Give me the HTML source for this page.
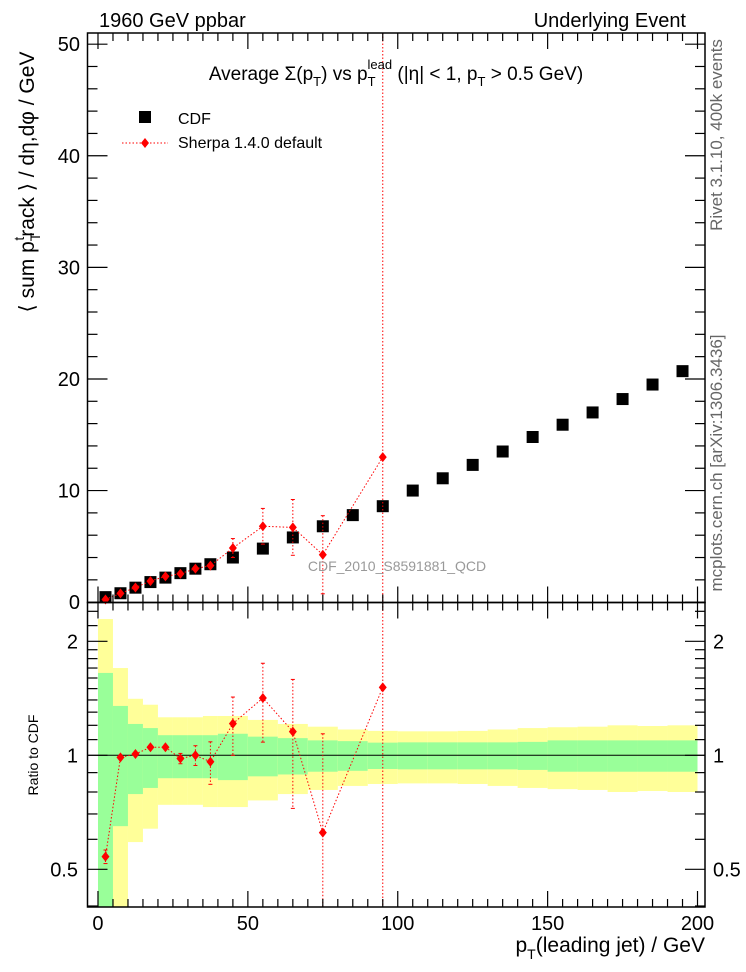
<!DOCTYPE html>
<html><head><meta charset="utf-8">
<style>
html,body{margin:0;padding:0;background:#fff;}
svg{display:block;font-family:"Liberation Sans",sans-serif;}
</style></head>
<body>
<svg id="chart" width="746" height="972" viewBox="0 0 746 972" xmlns="http://www.w3.org/2000/svg">
<g id="bands"></g>
<g id="marks"></g>
<g id="axes"></g>
<text x="99" y="27" font-size="20">1960 GeV ppbar</text>
<text x="686" y="27" font-size="20" text-anchor="end">Underlying Event</text>
<text x="396" y="80" font-size="19" text-anchor="middle">Average Σ(p<tspan font-size="13" dy="6">T</tspan><tspan dy="-6">) vs p</tspan><tspan font-size="13" dy="6">T</tspan><tspan font-size="13" dx="-8" dy="-17">lead</tspan><tspan dy="11"> (|η| &lt; 1, p</tspan><tspan font-size="13" dy="6">T</tspan><tspan dy="-6"> &gt; 0.5 GeV)</tspan></text>
<g>
<rect x="139" y="111" width="12" height="12" fill="#000"/>
<text x="178" y="124" font-size="16">CDF</text>
<line x1="122" y1="143" x2="168" y2="143" stroke="red" stroke-dasharray="1.5,2"/>
<path d="M145,138 L149,143 L145,148 L141,143Z" fill="red"/>
<text x="178" y="148" font-size="16">Sherpa 1.4.0 default</text>
</g>
<text x="397" y="571" font-size="14" fill="#999" text-anchor="middle">CDF_2010_S8591881_QCD</text>
<text transform="translate(34,182) rotate(-90)" font-size="21" text-anchor="middle">⟨ sum p<tspan font-size="14" dy="6">T</tspan><tspan font-size="14" dx="-8" dy="-16">t</tspan><tspan dy="10">rack ⟩ / dη,dφ / GeV</tspan></text>
<text transform="translate(722,135) rotate(-90)" font-size="17" fill="#666" text-anchor="middle">Rivet 3.1.10, 400k events</text>
<text transform="translate(722,463) rotate(-90)" font-size="17" fill="#666" text-anchor="middle">mcplots.cern.ch [arXiv:1306.3436]</text>
<text transform="translate(38,755) rotate(-90)" font-size="14" text-anchor="middle">Ratio to CDF</text>
<text x="705" y="952" font-size="21" text-anchor="end">p<tspan font-size="14" dy="7">T</tspan><tspan dy="-7">(leading jet) / GeV</tspan></text>
</svg>
<script>
const binEdges=[0,5,10,15,20,25,30,35,40,50,60,70,80,90,100,110,120,130,140,150,160,170,180,190,200];
const cdfValues=[0.45,0.8,1.3,1.8,2.2,2.6,3.0,3.4,4.0,4.8,5.8,6.8,7.8,8.6,10.0,11.1,12.3,13.5,14.8,15.9,17.0,18.2,19.5,20.7];
const statErr=[0.65,0.35,0.21,0.18,0.13,0.13,0.13,0.13,0.14,0.12,0.11,0.095,0.09,0.08,0.082,0.082,0.082,0.082,0.085,0.095,0.095,0.095,0.095,0.095];
const totErr=[1.29,0.70,0.41,0.36,0.26,0.26,0.26,0.27,0.27,0.24,0.21,0.19,0.17,0.16,0.157,0.157,0.16,0.17,0.18,0.186,0.19,0.2,0.195,0.2];
const sherpaX=[2.5,7.5,12.5,17.5,22.5,27.5,32.5,37.5,45,55,65,75,95];
const sherpaValues=[0.243,0.79,1.31,1.89,2.31,2.55,3.0,3.27,4.85,6.8,6.7,4.25,13.0];
const sherpaErr=[0.01,0.02,0.03,0.04,0.05,0.08,0.18,0.42,0.85,1.6,2.5,3.5,60];
const mainYTicks=[0,10,20,30,40,50];
const xTicks=[0,50,100,150,200];
const ratioTicks=[0.5,1,2];

const NS="http://www.w3.org/2000/svg";
const L=87.5,R=705,T1=33,B1=602.5,T2=602.5,B2=907;
const X=v=>L+(v+3.5)/(206)*(R-L);
const Y1=v=>B1-(v+0.03)*11.16;
const Y2=v=>755.3-Math.log2(v)*114;
function mk(tag,attrs,parent){const e=document.createElementNS(NS,tag);for(const k in attrs)e.setAttribute(k,attrs[k]);parent.appendChild(e);return e;}
const bands=document.getElementById('bands'),marks=document.getElementById('marks'),axes=document.getElementById('axes');
const clipY=y=>Math.max(T2,Math.min(B2,y));
for(let i=0;i<cdfValues.length;i++){
  const x0=X(binEdges[i]),x1=X(binEdges[i+1]);
  const yt=clipY(Y2(1+totErr[i])),yb=clipY(1-totErr[i]>0?Y2(1-totErr[i]):B2);
  const r=mk('rect',{x:x0,y:yt,width:x1-x0,height:yb-yt,fill:'#ffff99'},bands);
  
  
  const gt=clipY(Y2(1+statErr[i])),gb=clipY(1-statErr[i]>0?Y2(1-statErr[i]):B2);
  const g=mk('rect',{x:x0,y:gt,width:x1-x0,height:gb-gt,fill:'#99ff99'},bands);
  
  
}
const one=mk('line',{x1:L,x2:R,y1:Y2(1),y2:Y2(1),stroke:'#000','stroke-width':1},bands);


for(let i=0;i<cdfValues.length;i++){
  const cx=X((binEdges[i]+binEdges[i+1])/2),cy=Y1(cdfValues[i]);
  const s=mk('rect',{x:cx-6,y:cy-6,width:12,height:12,fill:'#000'},marks);
  
  
}
function cdfAt(x){for(let i=0;i<cdfValues.length;i++){if(x>=binEdges[i]&&x<binEdges[i+1])return cdfValues[i];}return 1;}
function drawSeries(Yf,vals,errs,top,bot,name){
  let pts=[];
  for(let i=0;i<sherpaX.length;i++){
    const x=X(sherpaX[i]),y=Yf(vals[i]);
    pts.push(x+','+y);
    const lo=vals[i]-errs[i];
    const ye1=Math.max(top,Yf(vals[i]+errs[i])),ye2=Math.min(bot,lo>0?Yf(lo):bot);
    if(ye2-ye1<10)continue;
    const el=mk('line',{x1:x,x2:x,y1:ye1,y2:ye2,stroke:'red','stroke-dasharray':'1.5,2'},marks);
    
    
    if(ye1>top+1){const c=mk('line',{x1:x-2,x2:x+2,y1:ye1,y2:ye1,stroke:'red'},marks);}
    if(ye2<bot-1){const c=mk('line',{x1:x-2,x2:x+2,y1:ye2,y2:ye2,stroke:'red'},marks);}
  }
  const pl=mk('polyline',{points:pts.join(' '),fill:'none',stroke:'red','stroke-dasharray':'1.5,2'},marks);
  
  
  for(let i=0;i<sherpaX.length;i++){
    const x=X(sherpaX[i]),y=Yf(vals[i]);
    const d=mk('path',{d:`M${x},${y-5}L${x+4},${y}L${x},${y+5}L${x-4},${y}Z`,fill:'red'},marks);
    
    
  }
}
drawSeries(Y1,sherpaValues,sherpaErr,T1,B1,'sherpa');
const rv=sherpaValues.map((v,i)=>v/cdfAt(sherpaX[i])),re=sherpaErr.map((e,i)=>e/cdfAt(sherpaX[i]));
drawSeries(Y2,rv,re,T2,B2,'sherpa-ratio');
for(const [t,b,n] of [[T1,B1,'main-frame'],[T2,B2,'ratio-frame']]){
  const f=mk('rect',{x:L,y:t,width:R-L,height:b-t,fill:'none',stroke:'#000','stroke-width':1.5},axes);
  
  
}
function tick(x1,y1,x2,y2,n){const t=mk('line',{x1,y1,x2,y2,stroke:'#000','stroke-width':1.2},axes);}
function label(x,y,txt,anchor,n,size){const t=mk('text',{x,y,'font-size':size||20,'text-anchor':anchor},axes);t.textContent=txt;}
for(let v=0;v<=50;v+=2){const y=Y1(v),len=v%10===0?20:10;tick(L,y,L+len,y,'y-tick');tick(R,y,R-len,y,'y-tick');}
mainYTicks.forEach(v=>label(80,Y1(v)+7,String(v),'end','y-tick-label'));
for(let v=0;v<=200;v+=5){const x=X(v),len=v%50===0?16:8;
  tick(x,B1,x,B1-len,'x-tick');tick(x,T1,x,T1+len,'x-tick');
  tick(x,B2,x,B2-len,'x-tick');tick(x,T2,x,T2+len,'x-tick');}
xTicks.forEach(v=>label(X(v),930,String(v),'middle','x-tick-label'));
const rt=[0.4,0.5,0.6,0.7,0.8,0.9,1,1.1,1.2,1.3,1.4,1.5,1.6,1.7,1.8,1.9,2,2.2,2.4];
rt.forEach(v=>{const y=Y2(v),len=ratioTicks.includes(v)?20:10;tick(L,y,L+len,y,'ratio-y-tick');tick(R,y,R-len,y,'ratio-y-tick');});
ratioTicks.forEach(v=>{label(78,Y2(v)+7,String(v),'end','ratio-tick-label');label(713,Y2(v)+7,String(v),'start','ratio-tick-label-right');});
</script>
</body></html>
